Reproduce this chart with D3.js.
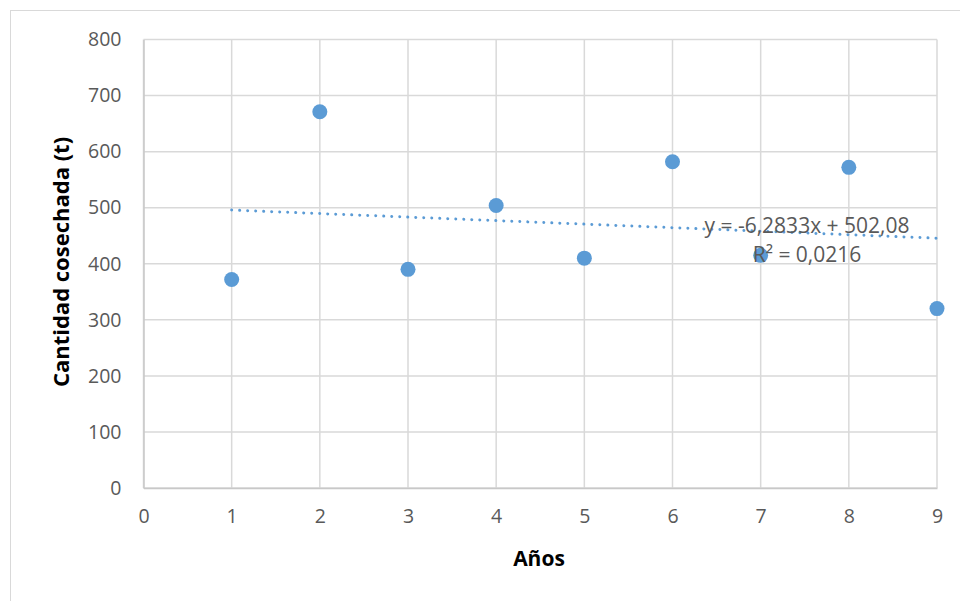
<!DOCTYPE html>
<html>
<head>
<meta charset="utf-8">
<script src="https://cdn.jsdelivr.net/npm/d3@7"></script>
<style>
  html, body { margin: 0; padding: 0; background: #fff; }
  svg { display: block; }
</style>
</head>
<body>
<script>
// Harvest per year
const years = [1, 2, 3, 4, 5, 6, 7, 8, 9];
const harvest = [372, 671, 390, 504, 410, 582, 415, 572, 320];

// Linear trend (as reported on the chart)
const trendSlope = -6.2833;
const trendIntercept = 502.08;
const trendLabel = "y = -6,2833x + 502,08";
const r2Label = "R² = 0,0216";

const xTicks = [0, 1, 2, 3, 4, 5, 6, 7, 8, 9];
const yTicks = [0, 100, 200, 300, 400, 500, 600, 700, 800];
const xTitle = "Años";
const yTitle = "Cantidad cosechada (t)";

const W = 960, H = 601;
const font = "'Open Sans', sans-serif";
const plot = { left: 143.5, right: 937, top: 39.5, bottom: 488 };

const svg = d3.select("body").append("svg").attr("width", W).attr("height", H);

// Chart frame
svg.append("rect")
  .attr("x", 10.5).attr("y", 10.5)
  .attr("width", W + 10).attr("height", H + 10)
  .attr("fill", "#fff").attr("stroke", "#d9d9d9").attr("stroke-width", 1);

const x = d3.scaleLinear().domain([0, 9]).range([plot.left, plot.right]);
const y = d3.scaleLinear().domain([0, 800]).range([plot.bottom, plot.top]);

// Gridlines
const grid = svg.append("g");
grid.selectAll("line.h").data(yTicks).join("line")
  .attr("x1", plot.left).attr("x2", plot.right)
  .attr("y1", d => y(d)).attr("y2", d => y(d))
  .attr("stroke", "#d9d9d9").attr("stroke-width", 1.5);
grid.selectAll("line.v").data(xTicks).join("line")
  .attr("y1", plot.top).attr("y2", plot.bottom)
  .attr("x1", d => x(d)).attr("x2", d => x(d))
  .attr("stroke", "#d9d9d9").attr("stroke-width", 1.5);

// Axes
const xAxis = d3.axisBottom(x).tickValues(xTicks).tickSize(0).tickPadding(24).tickFormat(d3.format("d"));
const yAxis = d3.axisLeft(y).tickValues(yTicks).tickSize(0).tickPadding(22).tickFormat(d3.format("d"));

const gx = svg.append("g").attr("transform", `translate(0,${plot.bottom})`).call(xAxis);
const gy = svg.append("g").attr("transform", `translate(${plot.left},0)`).call(yAxis);
[gx, gy].forEach(g => {
  g.select(".domain").attr("stroke", "#c8c8c8").attr("stroke-width", 1.5);
  g.selectAll("text").attr("fill", "#595959").style("font-family", font).style("font-size", "19.5px");
});
gx.selectAll("text").attr("dy", "0.55em");

// Trendline
const trendData = [1, 9].map(v => [v, trendIntercept + trendSlope * v]);
svg.append("path")
  .attr("d", d3.line().x(d => x(d[0])).y(d => y(d[1]))(trendData))
  .attr("fill", "none").attr("stroke", "#5b9bd5").attr("stroke-width", 3)
  .attr("stroke-linecap", "round").attr("stroke-dasharray", "0.01 8");

// Points
svg.append("g").selectAll("circle").data(years).join("circle")
  .attr("cx", d => x(d)).attr("cy", (d, i) => y(harvest[i]))
  .attr("r", 7.5).attr("fill", "#5b9bd5");

// Trend equation
const eq = svg.append("g").style("font-family", font).style("font-size", "21px").attr("fill", "#595959");
eq.append("text").attr("x", 807).attr("y", 233).attr("text-anchor", "middle").text(trendLabel);
eq.append("text").attr("x", 807).attr("y", 262).attr("text-anchor", "middle").text(r2Label);

// Axis titles
svg.append("text")
  .attr("x", 539).attr("y", 566).attr("text-anchor", "middle")
  .style("font-family", font).style("font-size", "21px").style("font-weight", "bold")
  .attr("fill", "#000").text(xTitle);
svg.append("text")
  .attr("transform", "translate(69,262) rotate(-90)").attr("text-anchor", "middle")
  .style("font-family", font).style("font-size", "22px").style("font-weight", "bold")
  .attr("fill", "#000").text(yTitle);
</script>
</body>
</html>
